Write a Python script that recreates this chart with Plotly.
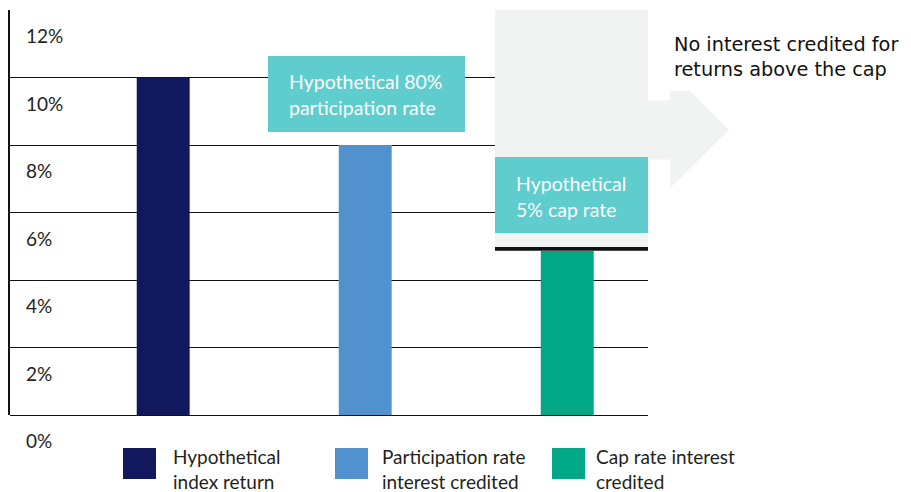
import plotly.graph_objects as go

# ---------------- data ----------------
categories = ["Hypothetical index return", "Participation rate interest credited", "Cap rate interest credited"]
values = [10, 8, 4.86]
bar_colors = ["#12185c", "#5191cd", "#00a886"]
legend_lines = [["Hypothetical", "index return"],
                ["Participation rate", "interest credited"],
                ["Cap rate interest", "credited"]]
y_ticks = [0, 2, 4, 6, 8, 10, 12]
y_tick_labels = ["0%", "2%", "4%", "6%", "8%", "10%", "12%"]
cap_level = 4.92
participation_label = ["Hypothetical 80%", "participation rate"]
cap_label = ["Hypothetical", "5% cap rate"]
side_note = "No interest credited for<br>returns above the cap"

# ---------------- layout geometry ----------------
W, H = 911, 492
L, R, T, B = 10, 263, 10, 77
PX0, PX1 = L, W - R            # 10 .. 648
PY0, PY1 = T, H - B            # 10 .. 415
X_RANGE = [-0.7584, 2.3998]
Y_RANGE = [0, 12]

def xd(px):  # pixel -> x data
    return X_RANGE[0] + (px - PX0) / (PX1 - PX0) * (X_RANGE[1] - X_RANGE[0])

def yd(py):  # pixel -> y data
    return Y_RANGE[1] - (py - PY0) / (PY1 - PY0) * (Y_RANGE[1] - Y_RANGE[0])

def xp(px):  # pixel -> paper x
    return (px - PX0) / (PX1 - PX0)

def yp(py):  # pixel -> paper y
    return (PY1 - py) / (PY1 - PY0)

FONT = "Lato"
TXT = "#231f20"
TEAL = "#5fcccd"
GREY = "#f1f2f2"

fig = go.Figure()
fig.add_trace(go.Bar(
    x=list(range(len(categories))), y=values, width=0.262,
    marker=dict(color=bar_colors, line=dict(width=0)),
    hovertext=categories, showlegend=False,
))

shapes = []
annotations = []

# grey "above cap" region
shapes.append(dict(type="rect", xref="x", yref="y", x0=xd(495), x1=xd(648),
                   y0=cap_level, y1=yd(9), fillcolor=GREY, line=dict(width=0), layer="above"))
# arrow
arrow = [(648, 100.5), (670, 100.5), (670, 91), (690, 91), (729, 130), (670, 188), (670, 159.5), (647, 159.5)]
path = "M " + " L ".join(f"{xp(a)},{yp(b)}" for a, b in arrow) + " Z"
shapes.append(dict(type="path", xref="paper", yref="paper", path=path,
                   fillcolor=GREY, line=dict(width=0), layer="above"))
# teal boxes
shapes.append(dict(type="rect", xref="x", yref="y", x0=xd(268), x1=xd(465), y0=yd(132), y1=yd(56),
                   fillcolor=TEAL, line=dict(width=0), layer="above"))
shapes.append(dict(type="rect", xref="x", yref="y", x0=xd(495), x1=xd(648), y0=yd(233), y1=yd(157),
                   fillcolor=TEAL, line=dict(width=0), layer="above"))
# cap line
shapes.append(dict(type="line", xref="x", yref="y", x0=xd(495), x1=xd(648), y0=cap_level, y1=cap_level,
                   line=dict(color="#111111", width=3.7), layer="above"))

# box texts
for i, line in enumerate(participation_label):
    annotations.append(dict(x=xd(287), y=yd(81 + 26.5 * i), xref="x", yref="y", text=line,
                            showarrow=False, xanchor="left", yanchor="middle",
                            font=dict(family=FONT, size=19.5, color="white")))
for i, line in enumerate(cap_label):
    annotations.append(dict(x=xd(514), y=yd(183 + 26 * i), xref="x", yref="y", text=line,
                            showarrow=False, xanchor="left", yanchor="middle",
                            font=dict(family=FONT, size=19.5, color="white")))
# side note
annotations.append(dict(x=xp(672), y=yp(56.5), xref="paper", yref="paper", text=side_note,
                        showarrow=False, xanchor="left", yanchor="middle", align="left",
                        font=dict(family="DejaVu Sans", size=19.3, color="#111111")))
# y tick labels (placed inside, below each gridline)
for v, lab in zip(y_ticks, y_tick_labels):
    annotations.append(dict(x=xp(24), y=v, xref="paper", yref="y", text=lab, yshift=-25.5,
                            showarrow=False, xanchor="left", yanchor="middle",
                            font=dict(family=FONT, size=19, color=TXT)))
# legend
sq_x = [123, 335, 552]
txt_x = [171, 380, 594]
for i in range(len(categories)):
    shapes.append(dict(type="rect", xref="paper", yref="paper", x0=xp(sq_x[i]), x1=xp(sq_x[i] + 33),
                       y0=yp(479), y1=yp(448), fillcolor=bar_colors[i], line=dict(width=0)))
    for j, line in enumerate(legend_lines[i]):
        annotations.append(dict(x=xp(txt_x[i]), y=yp(456 + 25 * j), xref="paper", yref="paper", text=line,
                                showarrow=False, xanchor="left", yanchor="middle",
                                font=dict(family=FONT, size=19, color=TXT)))

fig.update_layout(
    width=W, height=H,
    margin=dict(l=L, r=R, t=T, b=B, pad=0),
    paper_bgcolor="white", plot_bgcolor="white",
    shapes=shapes, annotations=annotations,
    showlegend=False,
    xaxis=dict(range=X_RANGE, showgrid=False, showticklabels=False, zeroline=False,
               showline=False, ticks="", fixedrange=True),
    yaxis=dict(range=Y_RANGE, tickvals=y_ticks, showticklabels=False, showgrid=True,
               gridcolor="#111111", gridwidth=1.2, zeroline=True, zerolinecolor="#111111",
               zerolinewidth=1.2, showline=True, linecolor="#111111", linewidth=1.5,
               ticks="", fixedrange=True),
)

fig.write_html("out.html")
